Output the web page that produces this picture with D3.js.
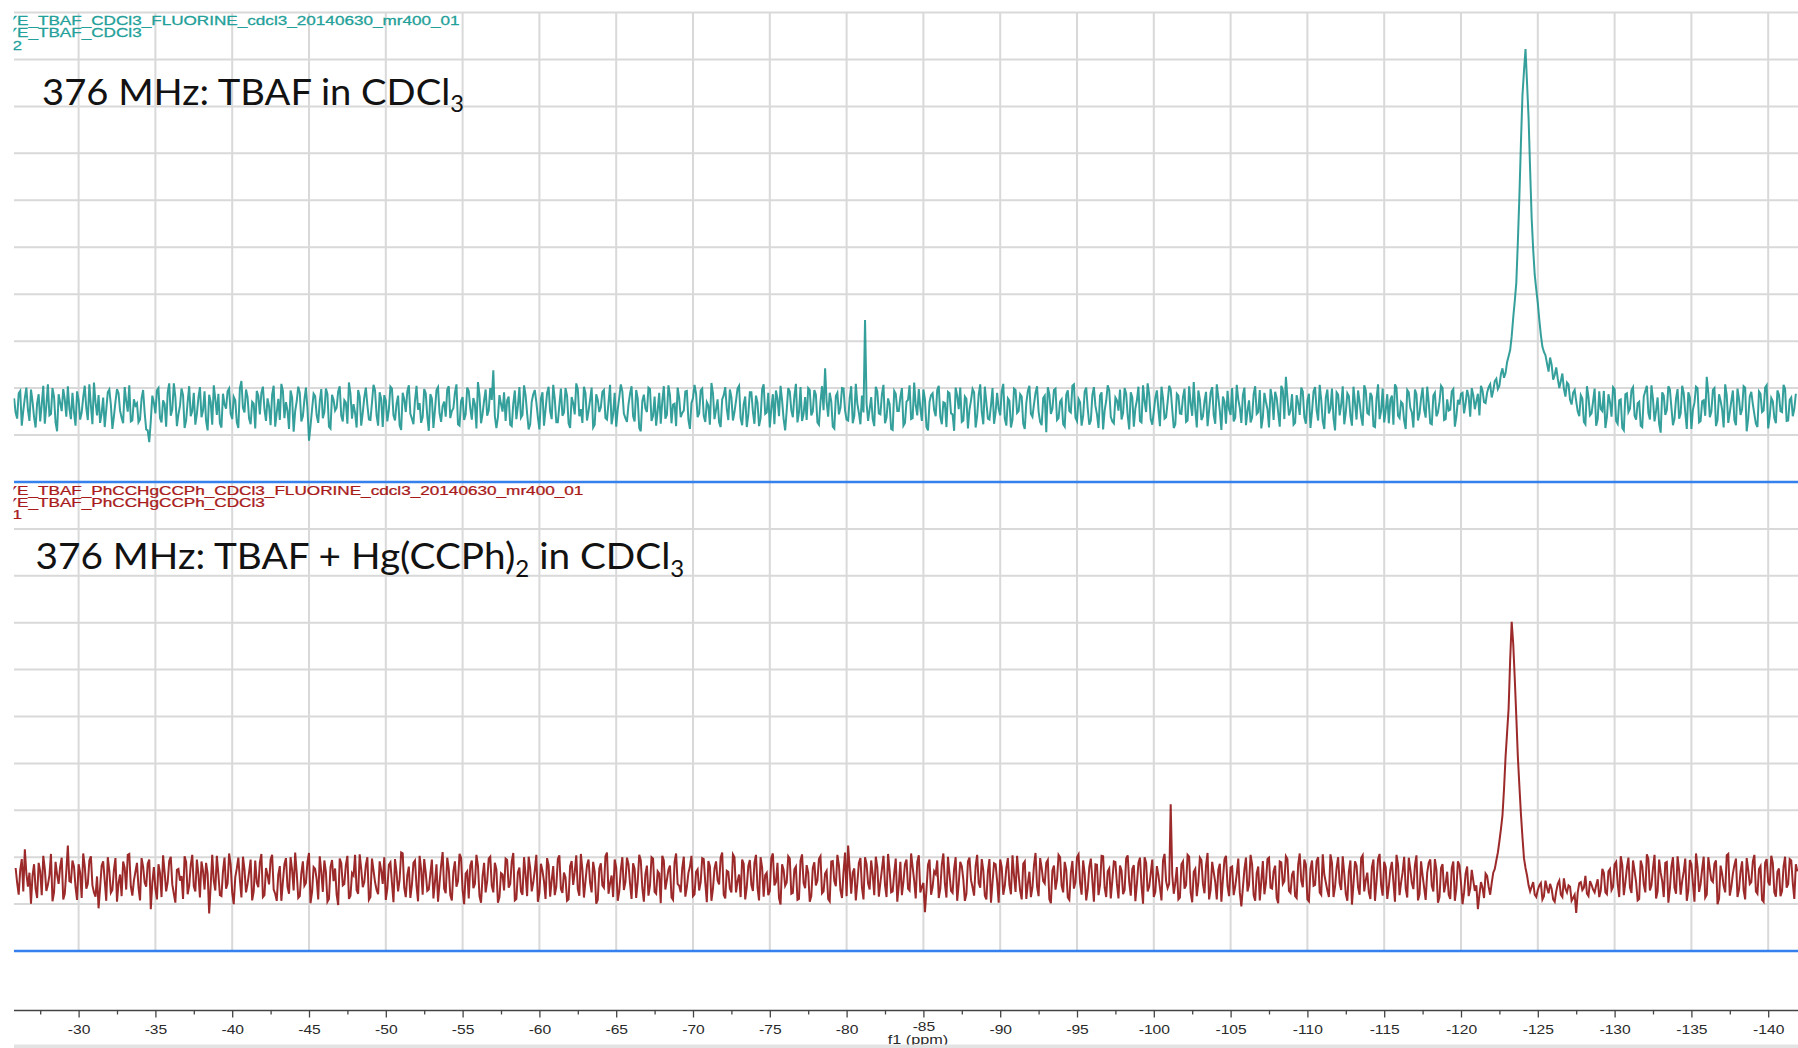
<!DOCTYPE html>
<html>
<head>
<meta charset="utf-8">
<title>19F NMR — TBAF in CDCl3 vs TBAF + Hg(CCPh)2</title>
<script src="https://d3js.org/d3.v7.min.js"></script>
<style>
  * { margin:0; padding:0; }
  body { background:#fff; overflow:hidden; }
  svg { display:block; }
</style>
</head>
<body>
<svg id="chart" width="1798" height="1048"></svg>
<script>
// ── Data (intensity in 1/100 of a grid row) ──────────────────────────────────
// Each trace is read every 0.1 ppm; stored as the 0.2 ppm grid points
// ("Even") and the points that fall in between them ("Odd").
var PPM_STEP = 0.1;

// TBAF in CDCl3, first point at -25.8 ppm
var tealStart = -25.8;
var tealEven = [
  18,-25,34,-8,41,-30,12,-44,27,5,-36,48,-15,22,-52,9,38,-21,-3,30,
  -40,15,-12,45,-28,3,52,-18,-34,20,-6,37,-47,11,29,-23,42,-10,-31,16,
  8,-27,36,-48,-75,24,-14,40,-33,6,31,-19,50,-41,2,25,-29,44,-9,-38,
  19,-22,33,-50,10,46,-17,-35,28,-4,39,-26,14,-45,55,-12,21,-37,7,34,
  -16,43,-30,1,26,-42,17,49,-24,-8,35,-53,12,30,-20,41,-72,-5,23,-34,
  38,-11,27,-46,15,-2,44,-31,9,52,-25,-13,36,-40,20,4,-28,47,-18,31,
  -43,13,-6,39,-29,24,-49,16,33,-15,-37,45,8,-22,29,-51,18,-7,42,-32,
  11,37,-24,-3,48,-40,21,-16,34,-27,6,53,-35,14,-19,40,78,-45,25,-10,
  -30,22,-41,35,2,-23,46,-14,-37,27,10,-48,31,-6,43,-26,17,-33,39,-12,
  24,-45,8,50,-20,-34,29,-9,41,-38,15,-1,36,-27,47,-16,-42,20,33,-24,
  5,44,-31,18,-52,26,-11,38,-19,-40,30,12,-25,46,-35,7,41,-22,-8,34,
  -47,19,28,-14,39,-32,3,51,-26,16,-43,25,-5,37,-29,13,45,-39,22,-17,
  31,-36,9,-24,48,-12,-44,27,35,-20,14,-50,40,-7,23,-33,42,-15,-28,36,
  -10,26,-38,44,82,-21,12,-46,30,-2,39,-27,18,-35,49,-13,24,185,-30,21,
  -41,33,-16,47,-23,6,-49,28,-9,40,-34,15,-26,52,-18,-3,37,-43,11,29,
  -20,45,-37,8,32,-14,-51,24,41,-29,17,-6,38,-44,26,-11,43,-25,3,-36,
  30,-18,49,-40,13,-27,36,-9,22,-47,34,-15,6,44,-32,19,-54,27,-4,39,
  -24,16,-42,35,-12,48,-30,10,-19,41,-38,25,2,-45,31,-8,46,-21,-35,14,
  37,-13,28,-48,20,-3,43,-33,12,50,-26,-10,35,-41,18,-22,45,-6,-37,24,
  -15,39,-29,7,53,-44,16,-20,32,-8,42,-36,21,-49,11,34,-17,-31,47,-2,
  25,-39,14,-23,44,-11,-46,30,-5,38,-28,19,-42,36,64,-18,27,-34,8,41,
  -22,13,-45,33,-7,47,-31,20,-14,39,-50,26,4,-37,29,-19,43,-27,10,-40,
  35,-16,22,-43,48,-9,-33,27,15,-38,41,-24,7,-47,31,-12,37,-29,18,-6,
  43,-35,24,-20,11,40,-26,-8,33,-42,15,28,-14,36,-21,25,12,-18,35,8,
  42,20,55,38,70,62,95,121,190,264,447,663,762,615,402,281,221,153,117,92,
  105,58,84,40,71,22,48,5,36,-10,25,-32,44,-18,12,-40,33,-9,-45,27,
  -21,38,-36,16,-50,29,-4,42,-27,11,-43,34,-13,46,-31,20,-55,24,-7,37,
  -39,18,-25,45,-12,31,-47,9,40,-30,14,64,-22,36,-41,27,-6,48,-34,13,
  -28,39,-17,44,-52,22,6,-36,33,-11,41,-46,19,-24,35,-9,47,-30,15,-20,
  28
];
var tealOdd = [
  -12,29,-40,19,-6,37,-22,8,-31,45,3,-18,40,-33,27,-9,16,44,-26,-11,
  33,-27,20,-2,48,-37,10,25,-14,-43,31,5,-20,38,-8,-35,12,46,-29,3,
  -33,18,-12,-50,-30,9,35,-24,14,-42,50,-6,21,-16,39,-45,11,-20,30,-15,
  42,-8,-30,26,-38,17,28,-44,5,33,-15,21,-33,40,-2,37,-25,11,-46,24,
  30,-5,18,-39,45,-12,-28,34,10,-47,20,-9,43,-31,15,-4,-40,28,-18,12,
  -24,39,-42,26,-8,33,-19,14,-36,28,6,-44,22,-13,41,-27,9,35,-40,17,
  25,-31,43,-18,7,-39,30,-11,46,-25,13,-6,-34,38,-20,27,-45,36,-14,2,
  -21,44,-9,30,-37,12,-28,41,-3,19,-46,25,-15,37,-8,15,-20,-22,6,31,
  14,-38,7,-26,42,-17,25,-48,11,36,-22,18,-40,29,-10,47,-33,4,-19,40,
  -35,21,-16,38,-5,43,-29,15,-44,27,-11,32,-24,9,-37,30,-6,48,-14,-32,
  28,-20,36,-45,12,-3,41,-30,22,-8,-36,44,-17,25,5,-41,19,-13,33,-27,
  8,47,-22,35,-19,10,-38,29,-6,-33,16,42,-28,20,-11,39,-24,6,-43,31,
  -10,24,-41,37,-15,30,-3,-37,18,45,-26,-8,33,-22,49,-12,-30,21,40,-18,
  36,-33,11,-7,10,30,-42,23,-16,40,-8,-29,44,-19,7,-37,-12,8,-5,-26,
  43,-14,27,-35,18,-47,34,-9,21,-40,11,46,-24,3,38,-30,16,-50,25,-7,
  36,-21,10,-43,29,-16,41,-5,-32,22,-46,14,31,-19,48,-37,9,-27,40,-12,
  -4,33,-25,18,-44,39,-13,27,-36,8,45,-21,30,-10,-39,24,42,-15,36,-28,
  11,-37,26,-9,45,-23,17,-40,33,-4,-29,42,-16,24,-48,13,35,-31,20,-8,
  -27,40,-18,31,-42,14,-30,46,-11,26,-38,19,-7,43,-25,10,37,-45,28,-14,
  21,-32,44,-19,-6,35,-28,12,-41,30,-17,48,-9,22,-36,-5,40,-23,16,-34,
  41,-9,-33,27,-15,36,-22,11,-44,19,32,-13,45,-26,20,-8,-38,25,-17,33,
  -36,28,-10,42,-29,15,-47,37,-3,-24,31,-18,44,-12,23,-40,8,35,-21,46,
  -13,30,-41,17,-26,39,-7,-35,24,48,-19,11,-30,36,-2,-44,27,-15,41,-23,
  9,-37,30,-12,45,-28,16,-6,38,-20,5,30,8,22,40,-5,28,45,10,30,
  48,35,60,45,82,72,108,150,225,350,560,715,690,505,335,250,185,128,110,75,
  90,68,60,55,38,52,15,30,12,-20,18,-37,21,-14,39,-26,-5,34,-22,10,
  42,-30,14,-45,27,-11,36,-19,8,-40,22,45,-27,16,-8,-36,31,-17,44,-2,
  -25,38,-14,29,-47,20,-6,43,-33,12,-19,30,-10,40,-28,13,-44,25,-12,35,
  -39,17,-5,41,-24,32,-16,-43,28,-8,46,-20,12,-35,26,-11,38,-29,20,-4
];

// TBAF + Hg(CCPh)2 in CDCl3, first point at -25.9 ppm
var redStart = -25.9;
var redEven = [
  22,-35,41,62,-18,-54,30,-42,15,48,-27,6,-49,35,-12,44,-33,70,-8,25,
  -46,12,53,-22,38,-15,-39,-64,27,-5,45,-31,18,-50,8,36,-24,52,-37,14,
  -20,43,-9,31,-66,24,-45,11,49,-28,37,-13,-52,20,5,47,-34,28,-17,40,
  -41,16,33,-75,50,-26,9,-38,44,-11,29,-55,21,-3,46,-30,13,-47,38,-19,
  52,-36,7,40,-24,-48,26,-7,43,-33,18,55,-42,10,-16,35,-53,24,-2,47,
  -29,14,-44,39,21,-57,32,-12,48,-37,6,-25,51,-19,28,-46,42,-8,-34,17,
  45,-22,34,-51,12,-3,53,-40,25,-14,38,-49,19,41,-27,9,-43,30,-10,56,
  -32,20,-47,36,-6,44,-55,15,27,-21,50,-38,4,-30,42,-16,33,-52,11,-26,
  39,-12,54,-44,23,-35,8,46,-28,17,-50,31,-7,43,-39,26,-18,49,-31,2,
  -45,37,13,-23,52,-41,28,-9,35,-54,21,-15,47,-33,6,40,-48,18,-25,44,
  -11,32,-42,50,-20,9,-37,45,-29,15,-53,38,-4,27,-46,53,-16,22,-39,11,
  48,-34,19,-8,41,-51,26,-22,36,-13,55,-43,14,-30,45,-6,-40,31,-19,39,
  -27,50,-47,23,7,-36,44,-15,33,-56,18,-9,42,-31,25,-44,51,-21,12,-38,
  34,-5,47,-28,16,-49,37,-17,28,-42,55,70,-33,21,-10,43,-45,30,-24,8,
  46,-39,19,-14,52,-30,11,-50,35,-7,40,-26,24,-43,49,-18,-72,29,-35,15,
  38,-22,53,-41,9,-31,45,-12,26,-48,36,-4,-37,50,-20,17,-45,41,-9,30,
  -52,24,-16,43,-34,6,48,-27,31,-44,14,-19,54,-38,22,-11,39,-53,27,-3,
  45,-30,18,-46,37,-8,51,-35,10,-23,42,-50,29,-14,47,-40,21,-5,35,-43,
  16,-25,49,-37,28,-12,44,-54,33,-18,40,-29,7,-47,52,-21,158,-33,24,-41,
  36,-15,46,-51,20,-8,39,-32,54,-24,13,-45,31,-2,48,-38,25,-17,42,-60,
  19,-28,50,-36,11,-47,37,-10,44,-22,27,-53,34,-6,41,-31,16,-42,53,-19,
  29,-49,38,-14,45,-35,8,-26,51,-40,22,-11,47,-33,15,-56,36,-20,43,-28,
  12,-44,40,-7,52,-37,24,-18,35,-50,30,-9,46,-41,19,-23,49,-34,6,-46,
  33,-16,41,-52,22,-30,14,-44,36,-21,28,-55,10,-38,18,-27,-66,-8,-42,5,
  -35,12,38,79,134,258,362,547,426,260,138,43,6,-28,-8,-40,-15,-45,-5,-32,
  -22,-50,-12,-35,0,-30,-18,-42,-74,-10,-25,5,-38,-14,-30,-2,-26,12,-34,20,
  -18,35,-40,28,-9,44,-31,16,-47,38,-13,51,-26,22,-43,40,-6,33,-52,25,
  -20,47,-35,14,-48,39,-11,53,-29,20,-41,45,-4,31,-55,27,-16,49,-37,10,
  42,-24,36,-45,18,-8,50,-33,26,-50,41,-15,33,-39,21,-27,46,-12,38,-44,
  15
];
var redOdd = [
  -10,18,-28,10,12,5,-22,33,-36,20,-14,52,-30,8,25,-45,15,-6,38,-19,
  30,-42,26,-12,47,-30,4,-20,36,-48,16,-25,43,-10,-38,22,50,-17,-5,33,
  -47,25,-18,40,-10,-22,30,-40,13,-8,46,-33,18,-5,-44,35,-16,50,-28,9,
  36,-24,10,-15,-5,48,-36,15,-22,53,-30,2,44,-41,19,-12,40,-28,-9,34,
  -40,22,-13,50,-33,8,-48,30,-18,45,-26,12,-38,36,-10,54,-29,20,-45,14,
  38,-50,24,-6,-35,42,-15,28,-44,11,50,-33,20,-8,45,-40,17,-25,36,-12,
  -46,29,-10,41,-28,55,-20,7,-42,33,-16,48,-35,12,-24,40,-8,-50,27,-22,
  44,-36,15,-18,52,-25,10,-43,38,-12,27,-52,33,-6,46,-30,19,-40,8,42,
  -20,36,-47,13,-28,45,-38,22,-9,50,-31,16,-44,28,-5,-36,41,-23,12,-48,
  26,-14,49,-37,18,-6,40,-30,14,-46,32,-20,55,-11,-40,23,-28,45,-8,30,
  -44,20,-7,38,-50,27,-15,42,-33,10,48,-24,18,-41,35,-12,-30,46,-19,25,
  -38,14,-26,43,-10,37,-48,21,-4,44,-35,16,-22,51,-30,8,40,-45,26,-14,
  33,-20,45,-39,12,-27,53,-8,-42,30,-16,47,-33,19,-46,38,-10,28,-50,22,
  -15,41,-32,10,-44,36,-6,50,-25,14,-38,20,12,-47,33,-20,45,-11,38,-36,
  24,-9,48,-40,17,-28,42,-14,-36,30,-22,53,-5,35,-30,-10,-25,40,-18,9,
  -42,30,-12,46,-27,20,-48,35,-3,-33,44,-19,26,-10,41,-37,15,-52,32,-6,
  40,-35,22,-14,49,-29,8,-45,36,-11,-40,28,-18,43,-6,33,-44,17,-24,50,
  -16,35,-41,12,-22,45,-10,38,-47,24,-5,30,-36,48,-20,15,-43,36,-12,27,
  -34,42,-8,20,-49,33,-16,45,-28,10,-40,26,-20,38,-6,-12,8,-10,-45,30,
  -22,50,-30,14,-38,44,-12,27,-45,35,-8,18,-50,40,-16,23,-36,9,-30,-20,
  44,-14,30,-48,25,-6,-34,41,-20,15,-42,36,-12,47,-27,8,-38,29,-5,40,
  -45,20,-16,37,-30,51,-9,-40,33,-18,45,-25,10,-48,38,-12,27,-35,49,-4,
  -30,24,-48,41,-15,35,-44,18,-8,50,-36,13,-22,44,-10,28,-47,36,-20,12,
  40,-28,18,-40,30,-12,-35,22,-48,36,-10,-30,25,-22,-5,-15,-35,-20,10,-18,
  -10,20,55,105,190,310,465,500,345,198,88,22,-15,-18,-35,-25,-10,-38,-20,-12,
  -45,-28,-5,-40,-22,-15,-48,-35,-30,-8,-20,-33,-6,-24,-15,-40,20,-30,15,-25,
  30,-12,47,-36,22,-20,38,-8,-44,26,-30,41,-15,50,-28,12,-40,35,-22,45,
  -33,18,-6,42,-26,30,-50,24,-12,46,-35,20,-8,38,-44,10,-30,52,-18,28,
  -40,15,-25,43,-12,36,-28,20,-46,33,-8,48,-30,14,-38,25,-20,41,-10,30
];

var majorTicks = [-30,-35,-40,-45,-50,-55,-60,-65,-70,-75,-80,-85,-90,-95,-100,
                  -105,-110,-115,-120,-125,-130,-135,-140];
var minorTicks = [-27.5,-32.5,-37.5,-42.5,-47.5,-52.5,-57.5,-62.5,-67.5,-72.5,-77.5,
                  -82.5,-87.5,-92.5,-97.5,-102.5,-107.5,-112.5,-117.5,-122.5,-127.5,
                  -132.5,-137.5];

var tealHeader = ["E_TBAF_CDCl3_FLUORINE_cdcl3_20140630_mr400_01", "E_TBAF_CDCl3", "2"];
var redHeader  = ["E_TBAF_PhCCHgCCPh_CDCl3_FLUORINE_cdcl3_20140630_mr400_01", "E_TBAF_PhCCHgCCPh_CDCl3", "1"];

var tealTitle = [{ t:"376 MHz: TBAF in CDCl" }, { t:"3", sub:true }];
var redTitle  = [{ t:"376 MHz: TBAF + Hg(CCPh)" }, { t:"2", sub:true }, { t:" in CDCl" }, { t:"3", sub:true }];

// ── Layout ───────────────────────────────────────────────────────────────────
var W = 1798, H = 1048;
var plotLeft = 14;
var gridTop = 12.5, split = 482, gridBottom = 951;
var axisY = 1010.5;
var HSTRETCH = 1.25;   // the instrument screenshot is stretched sideways

var svg = d3.select("#chart");
svg.append("rect").attr("width", W).attr("height", H).attr("fill", "#fff");

svg.append("defs").append("clipPath").attr("id", "plotClip")
  .append("rect").attr("x", plotLeft - 0.5).attr("y", 0).attr("width", W).attr("height", H);

var x = d3.scaleLinear().domain([-30, -140]).range([78.6, 1768.2]);
var yTop = d3.scaleLinear().domain([-160, 840]).range([split, gridTop]);
var yBot = d3.scaleLinear().domain([-155, 845]).range([gridBottom, split]);

// ── Grid ─────────────────────────────────────────────────────────────────────
var grid = svg.append("g").attr("stroke", "#d9d9d9").attr("stroke-width", 2);

grid.selectAll("line.v")
  .data(majorTicks)
  .join("line")
  .attr("class", "v")
  .attr("x1", function(d) { return x(d); })
  .attr("x2", function(d) { return x(d); })
  .attr("y1", gridTop).attr("y2", gridBottom);

var topRows = d3.range(-60, 841, 100);     // -60 … 840
var botRows = d3.range(-55, 746, 100);     // -55 … 745
grid.selectAll("line.ht")
  .data(topRows)
  .join("line")
  .attr("class", "ht")
  .attr("x1", plotLeft).attr("x2", W)
  .attr("y1", function(d) { return yTop(d); })
  .attr("y2", function(d) { return yTop(d); });
grid.selectAll("line.hb")
  .data(botRows)
  .join("line")
  .attr("class", "hb")
  .attr("x1", plotLeft).attr("x2", W)
  .attr("y1", function(d) { return yBot(d); })
  .attr("y2", function(d) { return yBot(d); });

// spectrum separators
svg.append("g").attr("stroke", "#3580ec").attr("stroke-width", 2.4)
  .selectAll("line")
  .data([yTop(-160), yBot(-155)])
  .join("line")
  .attr("x1", plotLeft).attr("x2", W)
  .attr("y1", function(d) { return d; })
  .attr("y2", function(d) { return d; });

// ── Spectra ──────────────────────────────────────────────────────────────────
function toPoints(start, even, odd) {
  var pts = [];
  even.forEach(function(v, i) {
    pts.push([start - 2 * i * PPM_STEP, v]);
    if (i < odd.length) pts.push([start - (2 * i + 1) * PPM_STEP, odd[i]]);
  });
  return pts;
}

function drawSpectrum(points, yScale, color) {
  var line = d3.line()
    .x(function(d) { return x(d[0]); })
    .y(function(d) { return yScale(d[1]); });
  svg.append("path")
    .datum(points)
    .attr("clip-path", "url(#plotClip)")
    .attr("fill", "none")
    .attr("stroke", color)
    .attr("stroke-width", 2)
    .attr("stroke-opacity", 0.88)
    .attr("stroke-linejoin", "miter")
    .attr("d", line);
}

drawSpectrum(toPoints(tealStart, tealEven, tealOdd), yTop, "#19938d");
drawSpectrum(toPoints(redStart, redEven, redOdd), yBot, "#8e0c0c");

// ── Header lines (file names, clipped at the left edge) ─────────────────────
function drawHeader(lines, baselines, color) {
  var g = svg.append("g")
    .attr("clip-path", "url(#plotClip)")
    .attr("font-family", "'Liberation Sans', Arial, sans-serif")
    .attr("font-size", 12)
    .attr("fill", color)
    .attr("stroke", color)
    .attr("stroke-width", 0.25);

  // the long first line sets the sideways stretch
  var probe = g.append("text").text(lines[0]);
  var natural = probe.node().getComputedTextLength();
  probe.remove();
  var sx = lines.targetWidth / natural;

  lines.forEach(function(txt, i) {
    var row = g.append("g")
      .attr("transform", "translate(" + (i < 2 ? 17 : 12.4) + "," + baselines[i] + ") scale(" + sx + ",1)");
    if (i < 2) {
      row.append("text").attr("text-anchor", "end").text("Y");
    }
    row.append("text").text(txt);
  });
}

tealHeader.targetWidth = 443;
redHeader.targetWidth = 567;
drawHeader(tealHeader, [24.5, 37, 49.5], "#22a099");
drawHeader(redHeader, [495, 507, 519], "#a81a1a");

// ── Titles ───────────────────────────────────────────────────────────────────
function drawTitle(parts, x0, baseline, targetW) {
  var size = 36;
  var g = svg.append("g");
  var t = g.append("text")
    .attr("font-family", "Lato, 'Open Sans', sans-serif")
    .attr("font-size", size)
    .attr("fill", "#121212");
  var lowered = false;
  parts.forEach(function(p) {
    var span = t.append("tspan").text(p.t);
    if (p.sub && !lowered) {
      span.attr("font-size", size * 0.62).attr("dy", size * 0.22);
      lowered = true;
    } else if (!p.sub && lowered) {
      span.attr("dy", -size * 0.22);
      lowered = false;
    }
  });
  var w = t.node().getBBox().width;
  var sx = targetW / w;
  g.attr("transform", "translate(" + x0 + "," + baseline + ") scale(" + sx + ",1)");
}

drawTitle(tealTitle, 42, 104.5, 422);
drawTitle(redTitle, 35.5, 569, 649);

// ── Axis ─────────────────────────────────────────────────────────────────────
svg.append("line")
  .attr("x1", plotLeft).attr("x2", W)
  .attr("y1", axisY).attr("y2", axisY)
  .attr("stroke", "#444").attr("stroke-width", 1.3);

var axis = svg.append("g")
  .attr("transform", "translate(0," + axisY + ")")
  .call(d3.axisBottom(x)
    .tickValues(majorTicks)
    .tickSize(7)
    .tickSizeOuter(0)
    .tickPadding(8)
    .tickFormat(function(d) { return String(d); }));
axis.select(".domain").remove();
axis.selectAll(".tick line").attr("stroke", "#444").attr("stroke-width", 1.3);
axis.selectAll(".tick text")
  .attr("font-family", "'Liberation Sans', Arial, sans-serif")
  .attr("font-size", 12.5)
  .attr("fill", "#2a2a2a")
  .attr("transform", "scale(" + HSTRETCH + ",1)");
axis.selectAll(".tick text")
  .filter(function(d) { return d === -85; })
  .attr("y", 12);

var minor = svg.append("g")
  .attr("transform", "translate(0," + axisY + ")")
  .call(d3.axisBottom(x).tickValues(minorTicks).tickSize(4).tickSizeOuter(0).tickFormat(""));
minor.select(".domain").remove();
minor.selectAll(".tick line").attr("stroke", "#444").attr("stroke-width", 1.3);

svg.append("text")
  .attr("transform", "translate(918,1043.5) scale(1.3,1)")
  .attr("text-anchor", "middle")
  .attr("font-family", "'Liberation Sans', Arial, sans-serif")
  .attr("font-size", 12.5)
  .attr("fill", "#2a2a2a")
  .text("f1 (ppm)");

// scrollbar strip along the bottom
svg.append("rect")
  .attr("x", plotLeft).attr("y", 1044.5)
  .attr("width", W - plotLeft).attr("height", 4)
  .attr("fill", "#e3e3e3");
</script>
</body>
</html>
